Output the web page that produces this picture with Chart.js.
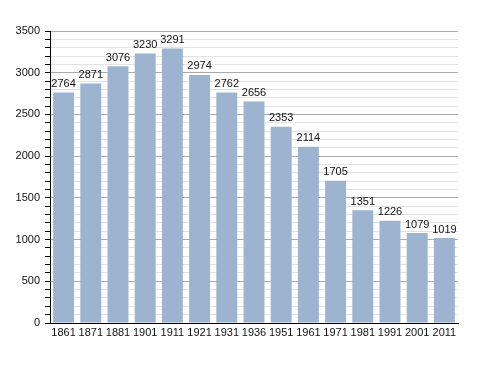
<!DOCTYPE html>
<html>
<head>
<meta charset="utf-8">
<script src="https://cdn.jsdelivr.net/npm/chart.js@4/dist/chart.umd.min.js"></script>
<style>
  body { margin: 0; background: #fff; }
  #wrap { width: 488px; height: 373px; position: relative; }
</style>
</head>
<body>
<div id="wrap"><canvas id="popChart"></canvas></div>
<script>
const years = ["1861", "1871", "1881", "1901", "1911", "1921", "1931", "1936",
               "1951", "1961", "1971", "1981", "1991", "2001", "2011"];
const population = [2764, 2871, 3076, 3230, 3291, 2974, 2762, 2656,
                    2353, 2114, 1705, 1351, 1226, 1079, 1019];

// write the value above each bar
const barLabels = {
    id: "barLabels",
    afterDatasetsDraw(chart) {
        const ctx = chart.ctx;
        const meta = chart.getDatasetMeta(0);
        ctx.save();
        ctx.font = "11px 'Liberation Sans', Arial, sans-serif";
        ctx.fillStyle = "#111";
        ctx.textAlign = "center";
        ctx.textBaseline = "bottom";
        meta.data.forEach((bar, i) => {
            ctx.fillText(population[i], bar.x, bar.y - 3);
        });
        ctx.restore();
    }
};

new Chart(document.getElementById("popChart").getContext("2d"), {
    type: "bar",
    data: {
        labels: years,
        datasets: [{
            data: population,
            backgroundColor: "#9cb4d0",
            borderWidth: 0,
            barPercentage: 0.77,
            categoryPercentage: 1
        }]
    },
    options: {
        responsive: true,
        maintainAspectRatio: false,
        animation: false,
        layout: { padding: { top: 31, right: 30, bottom: 0, left: 0 } },
        plugins: {
            legend: { display: false },
            tooltip: { enabled: false }
        },
        scales: {
            x: {
                grid: { display: false, drawTicks: false },
                border: { display: true, color: "#000", width: 1 },
                ticks: {
                    color: "#111",
                    padding: 3,
                    maxRotation: 0,
                    autoSkip: false,
                    font: { family: "'Liberation Sans', Arial, sans-serif", size: 11 }
                },
                afterFit(scale) { scale.height = 50; }
            },
            y: {
                min: 0,
                max: 3500,
                border: { display: true, color: "#000", width: 1 },
                grid: {
                    color: c => (c.tick && c.tick.value % 500 === 0) ? "#aaaaaa" : "#e2e2e2",
                    tickColor: "#000",
                    tickLength: 5,
                    drawTicks: true
                },
                ticks: {
                    stepSize: 100,
                    autoSkip: false,
                    color: "#111",
                    padding: 5,
                    font: { family: "'Liberation Sans', Arial, sans-serif", size: 11 },
                    callback: v => (v % 500 === 0 ? v : "")
                },
                afterFit(scale) { scale.width = 50; }
            }
        }
    },
    plugins: [barLabels]
});
</script>
</body>
</html>
